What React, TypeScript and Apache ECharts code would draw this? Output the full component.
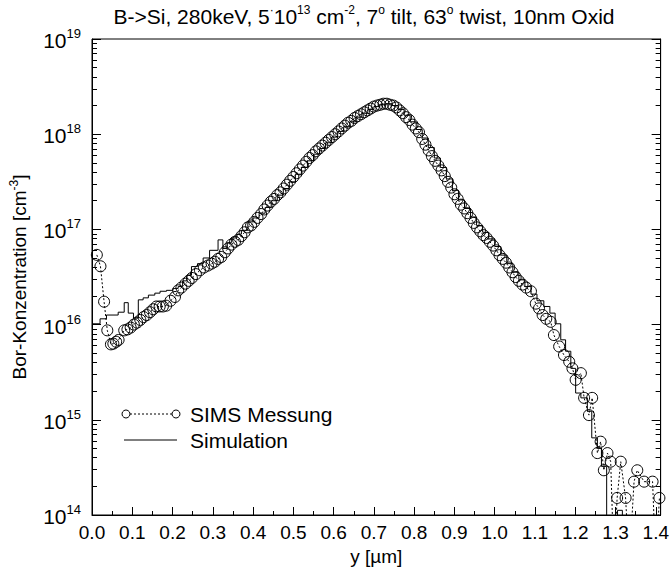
import React, { useEffect, useRef } from "react";
import * as echarts from "echarts";

const FONT = "'Liberation Sans', Arial, Helvetica, sans-serif";

// SIMS measurement: depth [µm] and boron concentration [cm^-3]
const SIMS_DEPTH = [
  0.012, 0.021, 0.03, 0.038, 0.047, 0.053, 0.06, 0.066, 0.08, 0.088, 0.096, 0.104, 0.112, 0.12, 0.128, 0.136,
  0.144, 0.152, 0.16, 0.168, 0.176, 0.184, 0.195, 0.206, 0.214, 0.222, 0.232, 0.24, 0.248, 0.258, 0.268, 0.278,
  0.288, 0.297, 0.305, 0.313, 0.321, 0.33, 0.338, 0.346, 0.355, 0.363, 0.371, 0.379, 0.387, 0.395, 0.403, 0.411,
  0.42, 0.428, 0.436, 0.444, 0.452, 0.46, 0.468, 0.476, 0.484, 0.492, 0.5, 0.508, 0.516, 0.524, 0.532, 0.54,
  0.548, 0.556, 0.564, 0.572, 0.58, 0.588, 0.596, 0.604, 0.612, 0.62, 0.628, 0.636, 0.644, 0.652, 0.66, 0.668,
  0.676, 0.684, 0.692, 0.7, 0.708, 0.716, 0.724, 0.732, 0.74, 0.748, 0.756, 0.764, 0.772, 0.78, 0.788, 0.796,
  0.804, 0.812, 0.82, 0.828, 0.836, 0.844, 0.852, 0.86, 0.868, 0.876, 0.884, 0.892, 0.9, 0.908, 0.916, 0.924,
  0.932, 0.94, 0.948, 0.956, 0.964, 0.972, 0.98, 0.988, 0.996, 1.004, 1.012, 1.02, 1.028, 1.036, 1.044, 1.052,
  1.06, 1.069, 1.078, 1.09, 1.102, 1.11, 1.119, 1.128, 1.139, 1.147, 1.16, 1.172, 1.185, 1.193, 1.201, 1.214,
  1.222, 1.234, 1.242, 1.255, 1.263, 1.271, 1.28, 1.288, 1.296, 1.304, 1.313, 1.325, 1.334, 1.346, 1.354, 1.371,
  1.392, 1.4, 1.409,
];
const SIMS_CONC = [
  5.4e16, 4.1e16, 1.74e16, 8.7e15, 6.2e15, 6.3e15, 6.6e15, 6.9e15, 8.7e15, 8.9e15, 9.3e15, 1.0e16, 1.05e16, 1.12e16, 1.2e16, 1.26e16,
  1.35e16, 1.45e16, 1.55e16, 1.55e16, 1.55e16, 1.58e16, 1.78e16, 1.95e16, 2.29e16, 2.45e16, 2.69e16, 2.88e16, 3.09e16, 3.39e16, 3.72e16, 3.98e16,
  4.17e16, 4.37e16, 4.57e16, 4.9e16, 5.13e16, 5.75e16, 6.31e16, 6.92e16, 7.41e16, 7.76e16, 8.51e16, 9.33e16, 1.05e17, 1.1e17, 1.2e17, 1.32e17,
  1.45e17, 1.62e17, 1.78e17, 1.95e17, 2.09e17, 2.29e17, 2.45e17, 2.69e17, 2.95e17, 3.24e17, 3.55e17, 3.89e17, 4.27e17, 4.68e17, 5.13e17, 5.62e17,
  6.03e17, 6.61e17, 7.08e17, 7.59e17, 8.13e17, 8.71e17, 9.33e17, 1.0e18, 1.07e18, 1.15e18, 1.23e18, 1.32e18, 1.38e18, 1.48e18, 1.55e18, 1.62e18,
  1.7e18, 1.78e18, 1.86e18, 1.95e18, 2.0e18, 2.04e18, 2.09e18, 2.09e18, 2.04e18, 2.0e18, 1.91e18, 1.78e18, 1.66e18, 1.51e18, 1.41e18, 1.26e18,
  1.15e18, 1.05e18, 8.91e17, 7.76e17, 6.76e17, 5.89e17, 5.25e17, 4.68e17, 4.17e17, 3.63e17, 3.16e17, 2.75e17, 2.34e17, 2.09e17, 1.82e17, 1.66e17,
  1.48e17, 1.32e17, 1.17e17, 1.05e17, 9.55e16, 8.71e16, 8.13e16, 7.41e16, 6.76e16, 6.03e16, 5.37e16, 4.9e16, 4.47e16, 3.98e16, 3.55e16, 3.16e16,
  2.88e16, 2.63e16, 2.45e16, 2.24e16, 1.66e16, 1.48e16, 1.26e16, 1.15e16, 1.07e16, 7.76e15, 5.89e15, 4.79e15, 4.07e15, 3.47e15, 2.63e15, 3.09e15,
  1.7e15, 1.12e15, 1.7e15, 4.47e14, 5.89e14, 2.95e14, 4.47e14, 3.63e14, 3e13, 1.51e14, 3.63e14, 1.51e14, 3e13, 2.24e14, 2.95e14, 2.24e14,
  2.24e14, 3e13, 1.51e14,
];

// Simulation (histogram, left bin edges): depth [µm] and concentration [cm^-3]
const SIM_DEPTH = [
  0.0, 0.02, 0.036, 0.065, 0.08, 0.09, 0.103, 0.115, 0.127, 0.14, 0.156, 0.169, 0.185, 0.201, 0.214, 0.225,
  0.236, 0.247, 0.262, 0.276, 0.292, 0.313, 0.325, 0.336, 0.346, 0.36, 0.371, 0.387, 0.4, 0.415, 0.43, 0.445,
  0.46, 0.475, 0.49, 0.505, 0.52, 0.535, 0.55, 0.565, 0.58, 0.595, 0.61, 0.625, 0.64, 0.655, 0.67, 0.685,
  0.7, 0.715, 0.73, 0.745, 0.76, 0.775, 0.79, 0.805, 0.82, 0.835, 0.85, 0.865, 0.88, 0.895, 0.91, 0.925,
  0.94, 0.955, 0.97, 0.985, 1.0, 1.015, 1.03, 1.045, 1.06, 1.075, 1.09, 1.105, 1.122, 1.137, 1.15, 1.164,
  1.176, 1.189, 1.201, 1.214, 1.23, 1.241, 1.255, 1.265, 1.278, 1.305, 1.317,
];
const SIM_CONC = [
  1.02e16, 1.15e16, 1.26e16, 1.35e16, 1.7e16, 1.32e16, 1.17e16, 1.82e16, 1.91e16, 2.04e16, 2.14e16, 2.24e16, 2.29e16, 2.4e16, 2.51e16, 2.88e16,
  3.31e16, 4.07e16, 4.37e16, 5.01e16, 6.03e16, 7.76e16, 6.31e16, 7.24e16, 8.13e16, 8.91e16, 9.77e16, 1.2e17, 1.32e17, 1.48e17, 1.7e17, 2.0e17,
  2.29e17, 2.69e17, 3.16e17, 3.8e17, 4.47e17, 5.25e17, 6.17e17, 7.08e17, 8.13e17, 9.33e17, 1.07e18, 1.2e18, 1.35e18, 1.51e18, 1.66e18, 1.82e18,
  1.95e18, 2.04e18, 2.09e18, 2.0e18, 1.82e18, 1.58e18, 1.35e18, 1.12e18, 9.12e17, 7.24e17, 5.62e17, 4.47e17, 3.39e17, 2.57e17, 2.04e17, 1.66e17,
  1.35e17, 1.1e17, 9.33e16, 7.94e16, 6.61e16, 5.37e16, 4.37e16, 3.55e16, 2.95e16, 2.51e16, 2.09e16, 1.78e16, 1.55e16, 1.32e16, 1.02e16, 6.92e15,
  5.25e15, 3.47e15, 1.91e15, 1.7e15, 1.23e15, 6.46e14, 5.01e14, 3.24e14, 5e13, 1.12e14, 5e13,
];

const X_LABELS = [0, 0.1, 0.2, 0.3, 0.4, 0.5, 0.6, 0.7, 0.8, 0.9, 1.0, 1.1, 1.2, 1.3, 1.4];
const X_MINOR = [0.05, 0.15, 0.25, 0.35, 0.45, 0.55, 0.65, 0.75, 0.85, 0.95, 1.05, 1.15, 1.25, 1.35];
const Y_DECADES = [1e14, 1e15, 1e16, 1e17, 1e18, 1e19];
const Y_MINOR: number[] = [];
for (let e = 14; e < 19; e++) for (let m = 2; m <= 9; m++) Y_MINOR.push(m * Math.pow(10, e));

const X_MIN = 0;
const X_MAX = 1.412;

export default function App() {
  const ref = useRef<HTMLDivElement>(null);
  useEffect(() => {
    const chart = echarts.init(ref.current!, null, { renderer: "svg" });
    const txt = { color: "#000", fontFamily: FONT };
    const tickRich = {
      b: { ...txt, fontSize: 21, verticalAlign: "bottom" as const },
      e: { ...txt, fontSize: 13, verticalAlign: "top" as const, padding: [0, 0, 11, 0] },
    };
    const nameRich = {
      b: { ...txt, fontSize: 19, verticalAlign: "bottom" as const },
      e: { ...txt, fontSize: 12, verticalAlign: "top" as const, padding: [0, 0, 9, 0] },
    };
    const baseY = (pos: "left" | "right", ticks: number[], len: number, labels: boolean, line: boolean) => ({
      type: "log" as const,
      logBase: 10,
      min: 1e14,
      max: 1e19,
      position: pos,
      offset: 0,
      axisLine: { show: line, lineStyle: { color: "#000", width: 1 } },
      axisTick: { show: true, inside: true, length: len, customValues: ticks, lineStyle: { color: "#000" } },
      axisLabel: labels
        ? {
            show: true,
            customValues: Y_DECADES,
            margin: 11,
            formatter: (v: number) => `{b|10}{e|${Math.round(Math.log10(v))}}`,
            rich: tickRich,
          }
        : { show: false },
      splitLine: { show: false },
    });
    const sims = SIMS_DEPTH.map((d, i) => [d, SIMS_CONC[i]]);
    const sim = SIM_DEPTH.map((d, i) => [d, SIM_CONC[i]]);
    const option: any = {
      animation: false,
      backgroundColor: "#fff",
      grid: { left: 92, right: 11, top: 39, bottom: 58, show: true, borderColor: "#000", borderWidth: 1, backgroundColor: "transparent" },
      xAxis: [
        {
          type: "value",
          min: X_MIN,
          max: X_MAX,
          position: "bottom",
          axisLine: { show: true, lineStyle: { color: "#000" } },
          axisTick: { show: true, inside: true, length: 8, customValues: X_LABELS, lineStyle: { color: "#000" } },
          axisLabel: {
            show: true,
            customValues: X_LABELS,
            margin: 8,
            formatter: (v: number) => v.toFixed(1),
            ...txt,
            fontSize: 19,
          },
          splitLine: { show: false },
          name: "y [µm]",
          nameLocation: "middle",
          nameGap: 26,
          nameTextStyle: { ...txt, fontSize: 19 },
        },
        {
          type: "value",
          min: X_MIN,
          max: X_MAX,
          position: "bottom",
          axisLine: { show: false },
          axisTick: { show: true, inside: true, length: 4, customValues: X_MINOR, lineStyle: { color: "#000" } },
          axisLabel: { show: false },
          splitLine: { show: false },
        },
      ],
      yAxis: [
        {
          ...baseY("left", Y_DECADES, 9, true, true),
          name: "{b|Bor-Konzentration [cm}{e|-3}{b|]}",
          nameLocation: "middle",
          nameGap: 63,
          nameRotate: 90,
          nameTextStyle: { ...txt, fontSize: 19, rich: nameRich },
        },
        baseY("left", Y_MINOR, 5, false, false),
        baseY("right", Y_DECADES, 9, false, true),
        baseY("right", Y_MINOR, 5, false, false),
      ],
      graphic: [
        {
          type: "text",
          x: 364,
          y: 15,
          style: {
            text:
              "{b|B->Si, 280keV, 5}{s|·}{b|10}{s|13}{b| cm}{s|-2}{b|, 7}{s|o}{b| tilt, 63}{s|o}{b| twist, 10nm Oxid}",
            align: "center",
            verticalAlign: "middle",
            rich: {
              b: { ...txt, fontSize: 21, verticalAlign: "bottom" },
              s: { ...txt, fontSize: 12, verticalAlign: "top", padding: [0, 0, 11, 0] },
            },
          },
        },
        // legend
        { type: "line", shape: { x1: 126, y1: 414, x2: 176, y2: 414 }, style: { stroke: "#000", lineWidth: 1, lineDash: [2, 2] } },
        { type: "circle", shape: { cx: 126, cy: 414, r: 4 }, style: { stroke: "#000", fill: "#fff", lineWidth: 1 } },
        { type: "circle", shape: { cx: 176, cy: 414, r: 4 }, style: { stroke: "#000", fill: "#fff", lineWidth: 1 } },
        { type: "text", x: 190, y: 414, style: { text: "SIMS Messung", ...txt, fontSize: 21, verticalAlign: "middle" } },
        { type: "line", shape: { x1: 124, y1: 440, x2: 177, y2: 440 }, style: { stroke: "#000", lineWidth: 1 } },
        { type: "text", x: 190, y: 440, style: { text: "Simulation", ...txt, fontSize: 21, verticalAlign: "middle" } },
      ],
      series: [
        {
          name: "Simulation",
          type: "line",
          data: sim,
          step: "end",
          showSymbol: false,
          symbol: "none",
          lineStyle: { color: "#000", width: 1 },
          xAxisIndex: 0,
          yAxisIndex: 0,
          z: 3,
        },
        {
          name: "SIMS Messung",
          type: "line",
          data: sims,
          symbol: "circle",
          symbolSize: 11,
          itemStyle: { color: "rgba(0,0,0,0)", borderColor: "#000", borderWidth: 1 },
          lineStyle: { color: "#000", width: 1, type: [2, 2] },
          xAxisIndex: 0,
          yAxisIndex: 0,
          z: 4,
        },
      ],
    };
    chart.setOption(option);
    return () => chart.dispose();
  }, []);
  return <div ref={ref} style={{ position: "fixed", left: 0, top: 0, width: 672, height: 573 }} />;
}
